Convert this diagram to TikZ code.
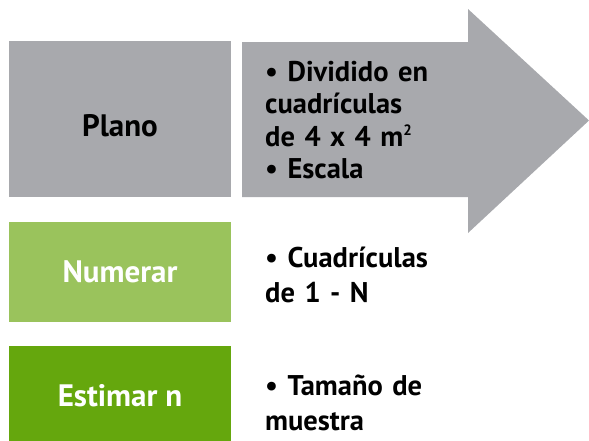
\documentclass[tikz,border=0pt]{standalone}
\usepackage{fontspec}
\setmainfont{PT Sans}
\usetikzlibrary{positioning}

\definecolor{planogray}{HTML}{A8A9AD}
\definecolor{numgreen}{HTML}{9AC35C}
\definecolor{estgreen}{HTML}{65A70D}

\newcommand{\sqsup}[1]{\raisebox{11pt}{\fontsize{15}{15}\selectfont #1}}

\begin{document}
\begin{tikzpicture}[x=1pt, y=-1pt,
      block_step/.style ={rectangle, draw=none, inner sep=0pt,
        minimum width=222pt, minimum height=100pt,
        font=\fontsize{31}{36}\selectfont\bfseries},
      block_list/.style ={rectangle, draw=none, inner sep=0pt,
        text width=200pt, align=left, anchor=base west,
        font=\fontsize{28.5}{35.5}\selectfont\bfseries},
      arrow_body/.style ={fill=planogray, draw=none}]
    %
    \useasboundingbox (0,0) rectangle (589,440);
    \clip (0,0) rectangle (589,440);
    %
    % 1. the big arrow behind the first list
    \coordinate (arr_nw) at (242,42);
    \coordinate (arr_sw) at (242,197);
    \coordinate (arr_tip) at (589,120.5);
    \path[arrow_body] (arr_nw) -- (468,42) -- (468,9) -- (arr_tip)
      -- (468,233) -- (468,197) -- (arr_sw) -- cycle;
    %
    % 2. the three steps on the left
    \node [block_step, fill=planogray, minimum height=156pt,
      text height=35pt, text depth=0pt] (plano) at (120,119) {Plano};
    \node [block_step, fill=numgreen, text=white] (numerar) at (120,272) {Numerar};
    \node [block_step, fill=estgreen, text=white] (estimar) at (120,396) {Estimar n};
    %
    % 3. what each step means
    \node [block_list, font=\fontsize{28.5}{32.2}\selectfont\bfseries] (plano_txt) at (265,81.7)
      {\textbullet{} Dividido en\\ cuadrículas\\ de 4 x 4 m\sqsup{2}\\ \textbullet{} Escala};
    \node [block_list] (numerar_txt) at (265,267) {\textbullet{} Cuadrículas\\ de 1 - N};
    \node [block_list] (estimar_txt) at (265,395) {\textbullet{} Tamaño de\\ muestra};
  \end{tikzpicture}
\end{document}
